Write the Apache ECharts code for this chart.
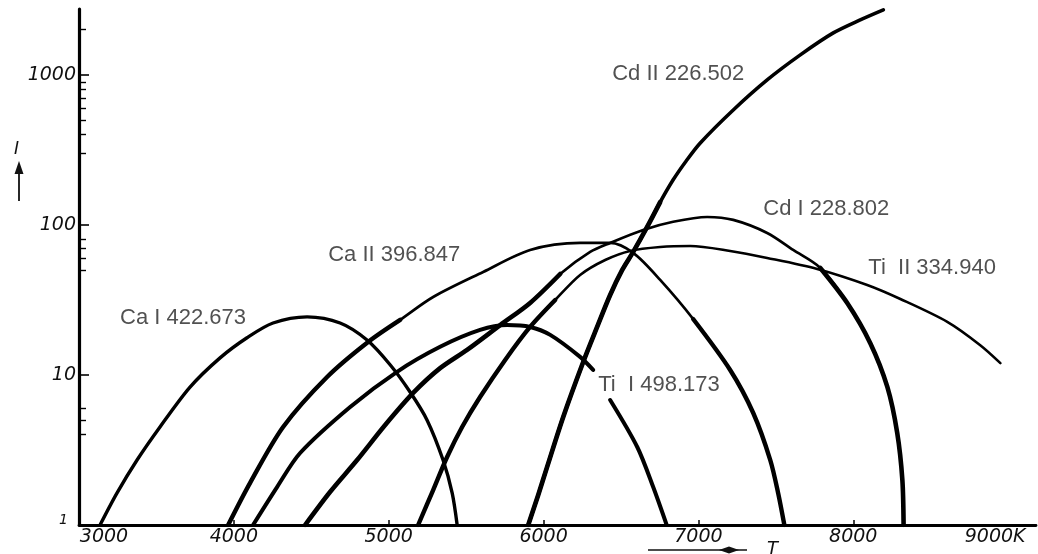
<!DOCTYPE html>
<html>
<head>
<meta charset="utf-8">
<script src="https://cdn.jsdelivr.net/npm/echarts@6/dist/echarts.min.js"></script>
<style>
html,body{margin:0;padding:0;background:#fff;}
#chart{width:1038px;height:554px;}
</style>
</head>
<body>
<div id="chart"></div>
<script>
// ---- data (T in K, relative intensity I) ----
const xTickLabels = [3000, 4000, 5000, 6000, 7000, 8000, 9000];
const xTickMarks = [4000, 5000, 6000, 7000, 8000];
const yLabels = [1, 10, 100, 1000];
const yMajorTicks = [10, 100, 1000];
const yMinorTicks = [4, 5, 6, 50, 60, 70, 80, 300, 400, 500, 600, 700, 800, 900, 2000];

const caI = [[3136,1],[3245,1.63],[3375,2.71],[3523,4.5],[3717,8.3],[3911,13.0],[4085,17.7],[4253,22.2],[4473,24.4],[4686,22.2],[4860,17.1],[5009,11.7],[5138,7.7],[5248,5.0],[5351,2.71],[5410,1.63],[5442,1]];
const caII = [[3963,1],[4105,1.91],[4318,4.5],[4602,9.7],[4867,16.6],[5074,23.3],[5287,33.1],[5610,48.6],[5913,68.1],[6236,75.9],[6430,75.9],[6579,65.1],[6753,43],[6966,23.6],[7205,10.8],[7354,5.58],[7464,2.71],[7515,1.63],[7555,1]];
const tiI = [[4124,1],[4279,1.79],[4428,3.02],[4751,6.12],[5054,10.5],[5332,15.4],[5590,19.95],[5765,21.5],[5913,20.9],[6043,18.5],[6236,13.2],[6320,10.8],[6375,null],[6430,6.81],[6605,3.31],[6708,1.79],[6795,1]];
const cdI = [[4460,1],[4621,1.66],[4796,2.71],[4977,4.64],[5158,7.59],[5332,11.1],[5506,14.7],[5720,21.5],[5913,30.2],[6107,47.1],[6301,66.1],[6430,75.9],[6643,92.6],[6837,105],[7057,113],[7225,108],[7444,88.4],[7612,68.1],[7787,51.7],[7961,30.2],[8110,16.3],[8220,8.32],[8284,4.1],[8317,2.0],[8325,1]];
const tiII = [[5190,1],[5287,1.71],[5377,2.84],[5474,4.5],[5590,7.13],[5752,12.6],[5913,20.9],[6075,31.6],[6236,46.4],[6398,58.4],[6559,67.1],[6753,71.3],[6947,72.4],[7205,67.1],[7444,60.3],[7767,50.9],[8090,39.8],[8304,32.1],[8607,22.6],[8820,15.8],[8950,12.0]];
const cdII = [[5901,1],[5965,1.58],[6023,2.44],[6127,5.25],[6256,12.2],[6346,20.9],[6430,34.1],[6508,50.1],[6579,66.1],[6669,97],[6753,142],[6837,200],[6921,267],[7012,352],[7225,584],[7444,926],[7658,1360],[7871,1905],[8045,2326],[8194,2713]];

const lineNames = ['Ca I 422.673','Ca II 396.847','Ti  I 498.173','Cd I 228.802','Ti  II 334.940','Cd II 226.502'];
const labelAnchors = [[3265,24.0],[4609,63.1],[6353,8.58],[7419,128],[8097,51.7],[6443,1016]];

// ---- styling ----
const curves = [
  {data: caI,  thin: 3.4, thick: 3.4, thickBelow: 0},
  {data: caII, thin: 2.7, thick: 4.4, thickBelow: 30},
  {data: tiI,  thin: 4.0, thick: 4.0, thickBelow: 0},
  {data: cdI,  thin: 2.7, thick: 4.6, thickBelow: 60},
  {data: tiII, thin: 2.6, thick: 4.4, thickBelow: 35, thickTmax: 6300},
  {data: cdII, thin: 3.6, thick: 4.7, thickBelow: 150}
];

const toSeriesData = arr => arr.map(p => [p[0], p[1] === null ? '-' : p[1]]);
const lineBase = {type: 'line', showSymbol: false, smooth: 0.3, connectNulls: false, silent: true, z: 3};

const series = [];
curves.forEach((c, i) => {
  series.push(Object.assign({}, lineBase, {
    name: lineNames[i], data: toSeriesData(c.data),
    lineStyle: {color: '#000', width: c.thin, cap: 'round', join: 'round'}
  }));
  if (c.thickBelow > 0) {
    const d = c.data.map(p => {
      const ok = p[1] !== null && p[1] <= c.thickBelow && (c.thickTmax === undefined || p[0] <= c.thickTmax);
      return [p[0], ok ? p[1] : '-'];
    });
    series.push(Object.assign({}, lineBase, {
      data: d, lineStyle: {color: '#000', width: c.thick, cap: 'round', join: 'round'}
    }));
  }
});

series.push({
  type: 'scatter', symbolSize: 0, silent: true, z: 5,
  data: labelAnchors.map((p, i) => ({value: p, name: lineNames[i]})),
  label: {
    show: true, position: 'right', distance: 0,
    formatter: p => p.name,
    fontFamily: 'Liberation Sans, Arial, sans-serif', fontSize: 22, color: '#262626'
  }
});

const tickFont = {fontFamily: 'DejaVu Sans', fontStyle: 'italic', fontSize: 19, color: '#111'};

const chart = echarts.init(document.getElementById('chart'), null, {renderer: 'canvas'});
chart.setOption({
  animation: false,
  backgroundColor: '#fff',
  grid: {left: 79, right: 2, top: 9, bottom: 29, containLabel: false},
  xAxis: {
    type: 'value', min: 3000, max: 9180,
    axisLine: {show: true, onZero: false, lineStyle: {color: '#000', width: 2.8}},
    axisTick: {show: true, inside: true, length: 5, customValues: xTickMarks, lineStyle: {color: '#000', width: 1.5}},
    axisLabel: {
      show: true, margin: 3, customValues: xTickLabels,
      formatter: v => v === 3000 ? '{l|3000}' : (v === 9000 ? '{r|9000K}' : String(v)),
      rich: {l: Object.assign({padding: [0, 0, 0, 50]}, tickFont), r: Object.assign({padding: [0, 26, 0, 0]}, tickFont)},
      ...tickFont
    },
    splitLine: {show: false}
  },
  yAxis: [
    {
      type: 'log', logBase: 10, min: 1, max: 2750, position: 'left',
      axisLine: {show: true, lineStyle: {color: '#000', width: 3.2}},
      axisTick: {show: true, inside: true, length: 10, customValues: yMajorTicks, lineStyle: {color: '#000', width: 1.6}},
      axisLabel: {
        show: true, margin: 3, customValues: yLabels,
        formatter: v => Math.round(v) === 1 ? '{o|1}' : String(Math.round(v)),
        rich: {o: Object.assign({padding: [0, 8, 10, 0]}, tickFont, {fontSize: 14})},
        ...tickFont
      },
      splitLine: {show: false}
    },
    {
      type: 'log', logBase: 10, min: 1, max: 2750, position: 'left', offset: 0,
      axisLine: {show: false},
      axisTick: {show: true, inside: true, length: 7, customValues: yMinorTicks, lineStyle: {color: '#000', width: 1.4}},
      axisLabel: {show: false},
      splitLine: {show: false}
    }
  ],
  graphic: [
    {type: 'text', left: 14, top: 141, style: {text: 'I', font: 'italic 17px DejaVu Sans', fill: '#111'}},
    {type: 'line', shape: {x1: 19, y1: 201, x2: 19, y2: 170}, style: {stroke: '#111', lineWidth: 1.8}},
    {type: 'polygon', shape: {points: [[14.5, 174], [23.5, 174], [19, 161]]}, style: {fill: '#111'}},
    {type: 'line', shape: {x1: 648, y1: 550, x2: 747, y2: 550}, style: {stroke: '#111', lineWidth: 1.6}},
    {type: 'polygon', shape: {points: [[719, 550], [729, 546.5], [739, 550], [729, 553.5]]}, style: {fill: '#111'}},
    {type: 'text', left: 767, top: 540, style: {text: 'T', font: 'italic 18px DejaVu Sans', fill: '#111'}}
  ],
  series: series
});
</script>
</body>
</html>
